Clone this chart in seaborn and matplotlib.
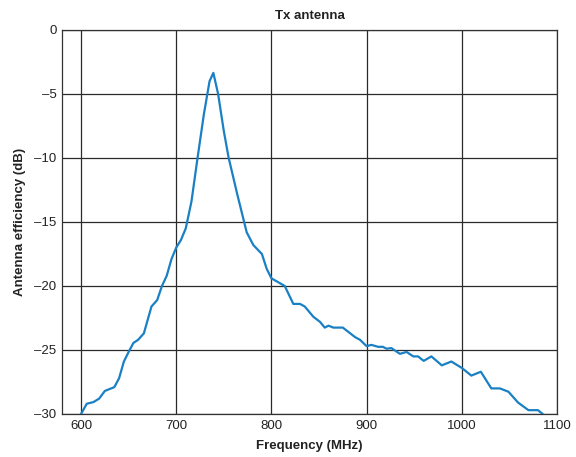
import matplotlib
matplotlib.use("Agg")
import matplotlib.pyplot as plt
import seaborn as sns
import pandas as pd

freq_mhz = [600, 606, 613, 619, 625, 635, 640, 645, 650, 655, 660, 666, 674, 680,
            685, 690, 695, 700, 705, 710, 716, 722, 729, 735, 739, 744, 750, 755,
            764, 774, 781, 790, 795, 800, 814, 823, 830, 835, 844, 851, 856, 860,
            865, 875, 888, 893, 900, 905, 912, 917, 921, 926, 935, 942, 949, 954,
            960, 968, 979, 989, 1000, 1010, 1020, 1031, 1040, 1049, 1059, 1070,
            1080, 1085]
efficiency_db = [-30.0, -29.2, -29.07, -28.8, -28.2, -27.9, -27.2, -25.9, -25.15,
                 -24.45, -24.2, -23.7, -21.6, -21.1, -20.0, -19.2, -17.9, -17.0,
                 -16.4, -15.5, -13.4, -10.2, -6.6, -4.0, -3.35, -5.0, -7.9, -9.96,
                 -12.8, -15.8, -16.8, -17.5, -18.65, -19.4, -20.0, -21.4, -21.4,
                 -21.6, -22.4, -22.8, -23.25, -23.1, -23.25, -23.25, -24.0, -24.2,
                 -24.7, -24.6, -24.75, -24.75, -24.9, -24.85, -25.3, -25.15, -25.5,
                 -25.5, -25.85, -25.5, -26.2, -25.9, -26.4, -27.0, -26.7, -28.0,
                 -28.0, -28.26, -29.1, -29.7, -29.7, -30.0]
x_ticks = [600, 700, 800, 900, 1000, 1100]
y_ticks = [0, -5, -10, -15, -20, -25, -30]

df = pd.DataFrame({"Frequency (MHz)": freq_mhz, "Antenna efficiency (dB)": efficiency_db})

sns.set_theme(style="white")
plt.rcParams["font.family"] = ["Liberation Sans", "DejaVu Sans"]

fig = plt.figure(figsize=(5.76, 4.57), dpi=100)
ax = fig.add_axes([62/576, 1 - 414/457, (557 - 62)/576, (414 - 30)/457])

sns.lineplot(data=df, x="Frequency (MHz)", y="Antenna efficiency (dB)", ax=ax,
             color="#1a80c4", linewidth=1.6, zorder=3)

ax.set_xlim(580, 1100)
ax.set_ylim(-30, 0)
ax.set_xticks(x_ticks)
ax.set_yticks(y_ticks)
ax.set_yticklabels([f"\u2013{abs(v)}" if v < 0 else str(v) for v in y_ticks])
ax.grid(True, color="#2a2a2a", linewidth=0.9)
ax.set_axisbelow(True)
for s in ax.spines.values():
    s.set_color("#333333")
    s.set_linewidth(0.9)
ax.tick_params(axis="both", length=0, labelsize=9.5, colors="#222222", pad=4)
ax.set_xlabel("Frequency (MHz)", fontsize=9.5, fontweight="bold", color="#222222", labelpad=6)
ax.set_ylabel("Antenna efficiency (dB)", fontsize=9.5, fontweight="bold", color="#222222", labelpad=6)
ax.set_title("Tx antenna", fontsize=9.5, fontweight="bold", color="#222222", pad=8)

fig.savefig("out.png", dpi=100)
